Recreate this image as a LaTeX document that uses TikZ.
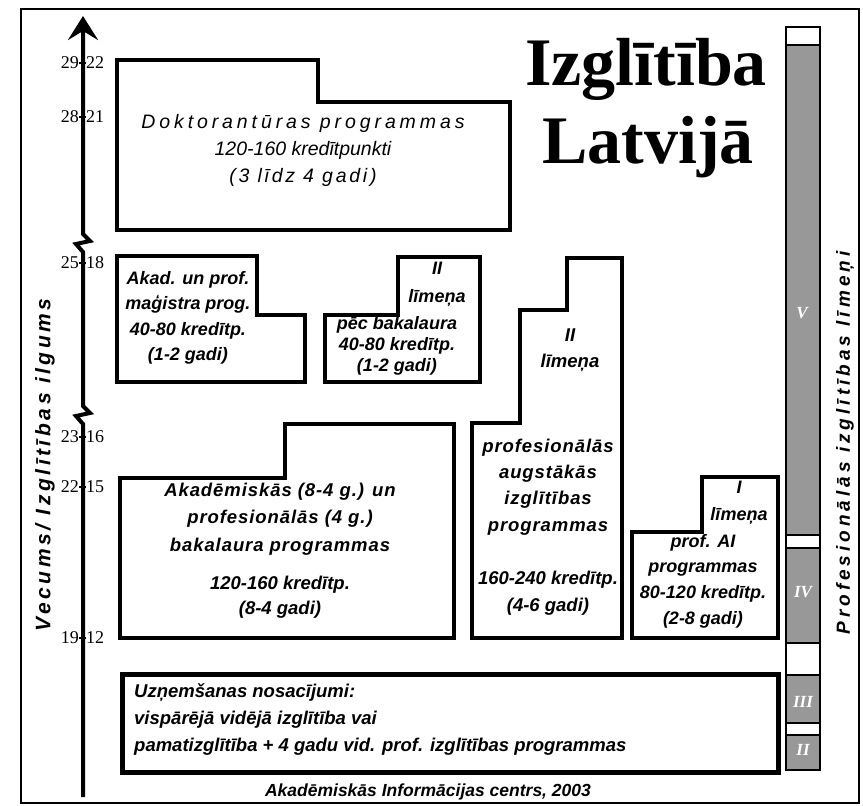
\documentclass[tikz,border=0pt]{standalone}
\usepackage{fontspec}
\usetikzlibrary{arrows.meta}
\newfontfamily\lsans{Liberation Sans}
\newfontfamily\lserif{Liberation Serif}
\definecolor{barfill}{RGB}{152,152,152}
\tikzset{
  prog/.style={line width=4pt, line join=miter},
  btxt/.style={font=\lsans\bfseries\itshape\fontsize{18.5}{26}\selectfont, align=center, inner sep=0pt},
  ticknum/.style={font=\lserif\fontsize{18}{18}\selectfont, inner sep=0pt},
  barseg/.style={line width=2.5pt},
  barlbl/.style={font=\lserif\bfseries\itshape\fontsize{17}{17}\selectfont, text=white, inner sep=0pt},
  axisline/.style={line width=4pt, -{Stealth[length=24pt,width=30pt,inset=9pt]}},
}
\begin{document}
\begin{tikzpicture}[x=1pt,y=-1pt]
\useasboundingbox (0,0) rectangle (863,806);
\fill[white] (0,0) rectangle (863,806);
% outer frame
\draw[line width=2.5pt] (21,9) rectangle (859,803);

% title
\node[font=\lserif\bfseries\fontsize{68}{68}\selectfont, anchor=base, inner sep=0pt] (title1) at (646,85) {Izglītība};
\node[font=\lserif\bfseries\fontsize{68}{68}\selectfont, anchor=base, inner sep=0pt] (title2) at (648,163) {Latvijā};

% axis
\coordinate (axb) at (83,797);
\coordinate (axt) at (83,16);
\draw[axisline] (axb) -- (83,424) -- (76,416) -- (90,413) -- (83,406) -- (83,252) -- (76,244) -- (90,241) -- (83,234) -- (axt);

% tick labels
\foreach \y/\a/\b/\n in {63/29/22/a, 117/28/21/b, 263/25/18/c, 437/23/16/d, 487/22/15/e, 638/19/12/f}{
  \node[ticknum, anchor=east] (tl\n) at (79,\y) {\a};
  \node[ticknum, anchor=west] (tr\n) at (86,\y) {\b};
  \draw[line width=1.2pt] (tl\n.east) -- (tr\n.west);
}

% axis label
\node[font=\lsans\bfseries\itshape\fontsize{21}{21}\selectfont\addfontfeature{LetterSpace=17}, rotate=90, inner sep=0pt] (axlbl) at (45,465) {Vecums/ Izglītības ilgums};

% doctoral
\draw[prog] (117,60) -- (318,60) -- (318,102) -- (510,102) -- (510,230) -- (117,230) -- cycle;
\node[font=\lsans\itshape\fontsize{19.5}{27}\selectfont, align=center, inner sep=0pt] (doct) at (303,150)
  {{\addfontfeature{LetterSpace=20}Doktorantūras programmas}\\120-160 kredītpunkti\\{\addfontfeature{LetterSpace=14}(3 līdz 4 gadi)}};

% magistra
\draw[prog] (117,256) -- (257,256) -- (257,315) -- (305,315) -- (305,382) -- (117,382) -- cycle;
\node[btxt, font=\lsans\bfseries\itshape\fontsize{18}{25.5}\selectfont] (mag) at (188,318) {Akad. un prof.\\maģistra prog.\\40-80 kredītp.\\(1-2 gadi)};

% pec bakalaura
\draw[prog] (325,315) -- (398,315) -- (398,257) -- (480,257) -- (480,382) -- (325,382) -- cycle;
\node[btxt, font=\lsans\bfseries\itshape\fontsize{18}{28}\selectfont] (pecA) at (437,284) {II\\līmeņa};
\node[btxt, font=\lsans\bfseries\itshape\fontsize{18}{21}\selectfont] (pecB) at (397,346) {pēc bakalaura\\40-80 kredītp.\\(1-2 gadi)};

% tall professional
\draw[prog] (472,423) -- (520,423) -- (520,310) -- (567,310) -- (567,258) -- (622,258) -- (622,638) -- (472,638) -- cycle;
\node[btxt, font=\lsans\bfseries\itshape\fontsize{18.5}{26}\selectfont] (tallA) at (570,350) {II\\līmeņa};
\node[btxt, font=\lsans\bfseries\itshape\fontsize{18.5}{26.3}\selectfont\addfontfeature{LetterSpace=5}] (tallB) at (548,487) {profesionālās\\augstākās\\izglītības\\programmas};
\node[btxt, font=\lsans\bfseries\itshape\fontsize{18.5}{27}\selectfont] (tallC) at (548,593) {160-240 kredītp.\\(4-6 gadi)};

% bachelor
\draw[prog] (120,478) -- (285,478) -- (285,424) -- (454,424) -- (454,638) -- (120,638) -- cycle;
\node[btxt, font=\lsans\bfseries\itshape\fontsize{18.5}{27.5}\selectfont\addfontfeature{LetterSpace=5}] (bachA) at (280,519) {Akadēmiskās (8-4 g.) un\\profesionālās (4 g.)\\bakalaura programmas};
\node[btxt, font=\lsans\bfseries\itshape\fontsize{18.5}{25}\selectfont] (bachB) at (280,597) {120-160 kredītp.\\(8-4 gadi)};

% level I
\draw[prog] (632,532) -- (702,532) -- (702,477) -- (778,477) -- (778,638) -- (632,638) -- cycle;
\node[btxt, font=\lsans\bfseries\itshape\fontsize{18}{27}\selectfont] (lvA) at (739,503) {I\\līmeņa};
\node[btxt, font=\lsans\bfseries\itshape\fontsize{18}{25.7}\selectfont] (lvB) at (703,581) {prof. AI\\programmas\\80-120 kredītp.\\(2-8 gadi)};

% admission
\draw[line width=5pt, line join=miter] (122,674) rectangle (778,772);
\node[btxt, align=left, anchor=west, font=\lsans\bfseries\itshape\fontsize{18.5}{27}\selectfont] (adm) at (134,720)
  {Uzņemšanas nosacījumi:\\vispārējā vidējā izglītība vai\\pamatizglītība + 4 gadu vid. prof. izglītības programmas};

% footer
\node[btxt, font=\lsans\bfseries\itshape\fontsize{17.5}{17.5}\selectfont] (foot) at (428,792) {Akadēmiskās Informācijas centrs, 2003};

% right bar
\draw[barseg, fill=white] (786,27) rectangle (820,45);
\draw[barseg, fill=barfill] (786,45) rectangle (820,535);
\draw[barseg, fill=white] (786,535) rectangle (820,548);
\draw[barseg, fill=barfill] (786,548) rectangle (820,643);
\draw[barseg, fill=white] (786,643) rectangle (820,675);
\draw[barseg, fill=barfill] (786,675) rectangle (820,723);
\draw[barseg, fill=white] (786,723) rectangle (820,735);
\draw[barseg, fill=barfill] (786,735) rectangle (820,770);
\node[barlbl] (lV) at (802,313) {V};
\node[barlbl] (lIV) at (803,592) {IV};
\node[barlbl] (lIII) at (803,702) {III};
\node[barlbl] (lII) at (803,750) {II};

% right label
\node[font=\lsans\bfseries\itshape\fontsize{19}{19}\selectfont\addfontfeature{LetterSpace=21}, rotate=90, inner sep=0pt] (rlbl) at (845,443) {Profesionālās izglītības līmeņi};
\end{tikzpicture}
\end{document}
